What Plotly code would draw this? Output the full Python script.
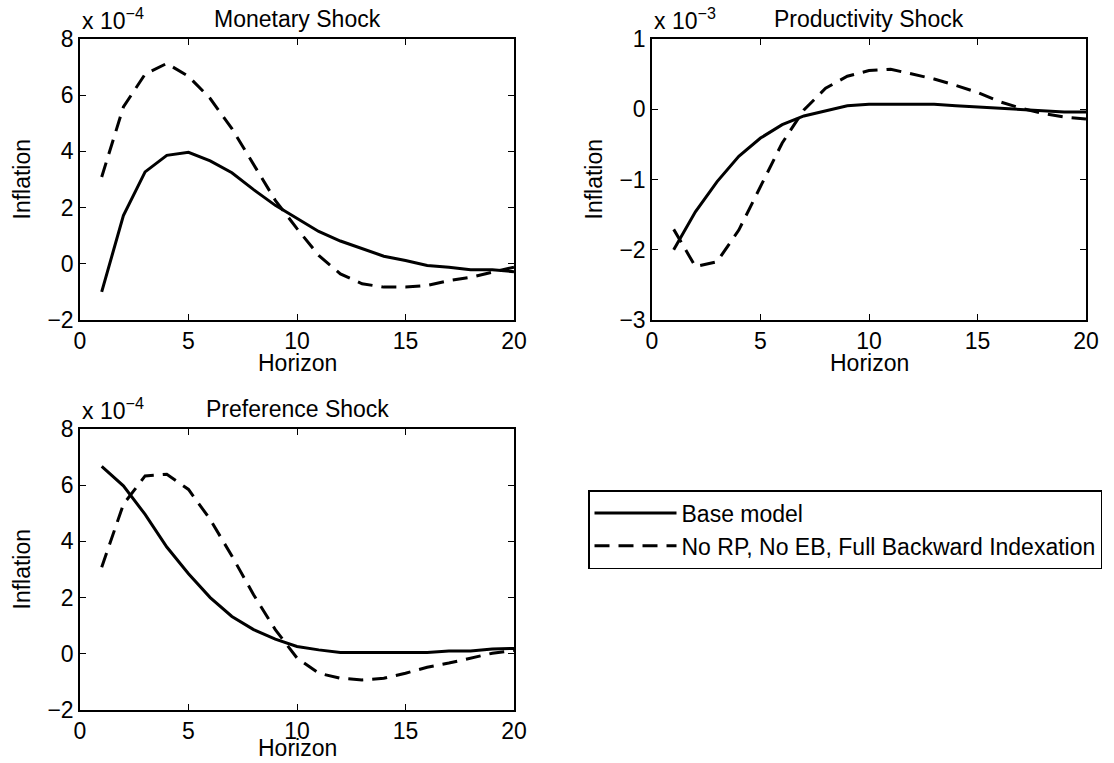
import plotly.graph_objects as go

horizon = list(range(1, 21))

# values in units shown on axes (x 10^-4, x 10^-3, x 10^-4)
monetary_base = [-1.0, 1.72, 3.27, 3.86, 3.97, 3.66, 3.24, 2.64, 2.08, 1.6,
                 1.15, 0.81, 0.53, 0.27, 0.12, -0.06, -0.12, -0.21, -0.21, -0.28]
monetary_alt = [3.09, 5.58, 6.75, 7.13, 6.67, 5.88, 4.81, 3.56, 2.26, 1.25,
                0.3, -0.36, -0.71, -0.83, -0.83, -0.77, -0.6, -0.48, -0.3, -0.12]

productivity_base = [-2.0, -1.46, -1.03, -0.67, -0.41, -0.22, -0.095, -0.02, 0.05, 0.07,
                     0.07, 0.07, 0.07, 0.05, 0.03, 0.01, 0.0, -0.02, -0.04, -0.04]
productivity_alt = [-1.71, -2.24, -2.17, -1.72, -1.1, -0.48, -0.01, 0.3, 0.47, 0.55,
                    0.57, 0.5, 0.43, 0.34, 0.24, 0.11, 0.015, -0.06, -0.11, -0.14]

preference_base = [6.67, 5.98, 4.96, 3.8, 2.85, 2.0, 1.33, 0.86, 0.52, 0.26,
                   0.14, 0.05, 0.05, 0.05, 0.05, 0.05, 0.1, 0.1, 0.17, 0.19]
preference_alt = [3.08, 5.32, 6.33, 6.39, 5.85, 4.78, 3.48, 2.1, 0.86, -0.15,
                  -0.69, -0.87, -0.93, -0.87, -0.69, -0.48, -0.33, -0.15, 0.02, 0.12]

series_names = ["Base model", "No RP, No EB, Full Backward Indexation"]
panel_titles = ["Monetary Shock", "Productivity Shock", "Preference Shock"]
panel_exponents = ["-4", "-3", "-4"]
y_ranges = [[-2, 8], [-3, 1], [-2, 8]]
y_dticks = [2, 1, 2]
x_ticks = [0, 5, 10, 15, 20]

W, H = 1114, 763
FONT = "Liberation Sans, Arial, Helvetica, sans-serif"
FS = 23

def px(x):
    return x / W

def py(y):
    return 1 - y / H

# panel pixel boxes: (left, right, top, bottom)
boxes = [(80, 514, 39, 320), (652, 1086, 39, 320), (80, 514, 429, 710)]

fig = go.Figure()
data = [(monetary_base, monetary_alt), (productivity_base, productivity_alt),
        (preference_base, preference_alt)]

for i, (base, alt) in enumerate(data):
    ax = "" if i == 0 else str(i + 1)
    fig.add_trace(go.Scatter(x=horizon, y=base, mode="lines", name=series_names[0],
                             line=dict(color="black", width=3),
                             xaxis="x" + ax, yaxis="y" + ax, showlegend=(i == 0)))
    fig.add_trace(go.Scatter(x=horizon, y=alt, mode="lines", name=series_names[1],
                             line=dict(color="black", width=3, dash="15px,9px"),
                             xaxis="x" + ax, yaxis="y" + ax, showlegend=(i == 0)))

layout = dict(width=W, height=H, autosize=False, template="none",
              margin=dict(l=0, r=0, t=0, b=0, pad=0),
              paper_bgcolor="white", plot_bgcolor="white",
              font=dict(family=FONT, size=FS, color="black"),
              annotations=[])

for i, (l, r, t, b) in enumerate(boxes):
    xa = "xaxis" if i == 0 else "xaxis" + str(i + 1)
    ya = "yaxis" if i == 0 else "yaxis" + str(i + 1)
    xref = "x" if i == 0 else "x" + str(i + 1)
    yref = "y" if i == 0 else "y" + str(i + 1)
    common = dict(showline=True, linecolor="black", linewidth=1.5, mirror="allticks",
                  ticks="inside", ticklen=6, tickwidth=1, tickcolor="black",
                  showgrid=False, zeroline=False, fixedrange=True, automargin=False,
                  tickfont=dict(family=FONT, size=FS, color="black"))
    layout[xa] = dict(domain=[px(l), px(r)], range=[0, 20], tickvals=x_ticks,
                      anchor=yref, **common)
    layout[ya] = dict(domain=[py(b), py(t)], range=y_ranges[i], dtick=y_dticks[i],
                      tick0=0, anchor=xref, **common)
    cx = (l + r) / 2
    hz_y = min(b + 58, H)
    layout["annotations"] += [
        dict(text=panel_titles[i], x=px(cx), y=py(t - 20), xref="paper", yref="paper",
             xanchor="center", yanchor="middle", showarrow=False,
             font=dict(family=FONT, size=FS)),
        dict(text="x 10<sup>\u2212" + panel_exponents[i][1:] + "</sup>", x=px(l), y=py(t - 3),
             xref="paper", yref="paper", xanchor="left", yanchor="bottom",
             showarrow=False, font=dict(family=FONT, size=FS)),
        dict(text="Horizon", x=px(cx), y=py(hz_y), xref="paper", yref="paper",
             xanchor="center", yanchor="bottom", showarrow=False,
             font=dict(family=FONT, size=FS)),
        dict(text="Inflation", x=px(l - 59), y=py((t + b) / 2), xref="paper", yref="paper",
             xanchor="center", yanchor="middle", textangle=-90, showarrow=False,
             font=dict(family=FONT, size=FS)),
    ]

layout["legend"] = dict(x=px(588), y=py(490), xanchor="left", yanchor="top",
                        bordercolor="black", borderwidth=1.5, bgcolor="white",
                        font=dict(family=FONT, size=23, color="black"),
                        itemwidth=82, tracegroupgap=0)
fig.update_layout(**layout)
fig.write_html("out.html")
